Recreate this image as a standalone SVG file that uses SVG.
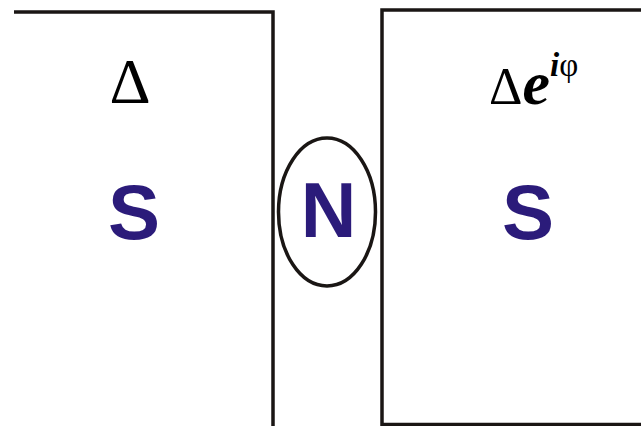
<svg xmlns="http://www.w3.org/2000/svg" width="641" height="426" viewBox="0 0 641 426">
<style>
.frame{fill:none;stroke:#1a1614;stroke-width:3.5}
.lbl{font-family:"Liberation Sans",Arial,sans-serif;font-weight:bold;fill:#2b1b7a;text-anchor:middle}
.math{font-family:"Liberation Serif","Times New Roman",serif;fill:#000}
</style>
<rect width="641" height="426" fill="#fff"/>
<g id="left-S">
<path class="frame" d="M14,12 H273 V428"/>
<text class="math" x="130" y="103" font-size="64" text-anchor="middle">Δ</text>
<text class="lbl" x="134" y="239" font-size="78">S</text>
</g>
<g id="right-S">
<path class="frame" d="M643,10 H382 V424.5 H643"/>
<text class="math" x="489" y="104" font-size="52">Δ<tspan font-weight="bold" font-style="italic" font-size="62">e</tspan><tspan dy="-28" font-size="33"><tspan font-weight="bold" font-style="italic">i</tspan>φ</tspan></text>
<text class="lbl" x="528" y="239" font-size="78">S</text>
</g>
<g id="N">
<ellipse cx="327" cy="212" rx="48.5" ry="74" fill="none" stroke="#1a1614" stroke-width="3.5"/>
<text class="lbl" x="328.5" y="237" font-size="77">N</text>
</g>
<g id="connectors"/>
</svg>
